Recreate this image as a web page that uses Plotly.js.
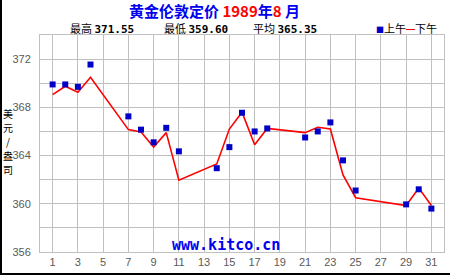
<!DOCTYPE html>
<html>
<head>
<meta charset="utf-8">
<script src="https://cdn.plot.ly/plotly-3.0.1.min.js"></script>
<style>
html,body{margin:0;padding:0;background:#fff;}
#wrap{position:relative;width:450px;height:275px;overflow:hidden;}
#chart{position:absolute;left:0;top:0;width:450px;height:275px;}
#bl{position:absolute;left:0;top:0;width:2px;height:275px;background:#000;}
#bb{position:absolute;left:0;top:273px;width:450px;height:2px;background:#000;}
</style>
</head>
<body>
<div id="wrap"><div id="chart"></div><div id="bl"></div><div id="bb"></div></div>
<script>
// Data (London gold fix, August 1989)
var days = [1,2,3,4,7,8,9,10,11,14,15,16,17,18,21,22,23,24,25,29,30,31];
var amFix = [369.90,369.90,369.70,371.55,367.25,366.15,365.10,366.30,364.35,362.95,364.70,367.55,366.00,366.25,365.50,366.00,366.75,363.60,361.10,359.95,361.20,359.60];
var pmFix = [369.05,369.75,369.25,370.50,366.15,365.95,364.70,365.90,361.95,363.30,366.20,367.60,364.90,366.25,365.90,366.35,366.20,362.40,360.50,359.85,361.30,359.85];
var statLabels = ["最高","最低","平均"];
var statValues = ["371.55","359.60","365.35"];
var seriesNames = ["上午","下午"];
var yTitleChars = ["美","元","/","盎","司"];

var L=40, R=6, T=35, B=23, W=450, H=275;
var pw=W-L-R, ph=H-T-B;
function px(x){return (x-L)/pw;}
function py(y){return (H-B-y)/ph;}

var blue='#0000c8', red='#ff0000', gray='#5a5a5a';

var traces = [
  {x:days, y:pmFix, type:'scatter', mode:'lines', name:seriesNames[1],
   line:{color:red, width:1.6}, hoverinfo:'x+y'},
  {x:days, y:amFix, type:'scatter', mode:'markers', name:seriesNames[0],
   marker:{symbol:'square', size:6, color:blue, line:{width:0}}, hoverinfo:'x+y'}
];

var ann = [];
ann.push({xref:'paper', yref:'paper', x:px(214), y:py(10.5), xanchor:'center', yanchor:'middle', showarrow:false,
  text:'<b><span style="color:#0000ee">黄金伦敦定价 </span><span style="color:#ff0000">1989</span><span style="color:#0000ee">年</span><span style="color:#ff0000">8</span><span style="color:#0000ee"> 月</span></b>',
  font:{family:'Noto Sans CJK SC, sans-serif', size:15}});
var statX=[68,162,251];
for (var i=0;i<statLabels.length;i++){
  ann.push({xref:'paper', yref:'paper', x:px(statX[i]), y:py(28.5), xanchor:'left', yanchor:'middle', showarrow:false,
    text:statLabels[i]+' <b><span style="font-family:DejaVu Sans Mono">'+statValues[i]+'</span></b>',
    font:{family:'Noto Sans CJK SC, sans-serif', size:11, color:'#000'}});
}
ann.push({xref:'paper', yref:'paper', x:px(439), y:py(28.5), xanchor:'right', yanchor:'middle', showarrow:false,
  text:'<span style="color:'+blue+';font-size:8px">■</span>'+seriesNames[0]+'<span style="color:#ff0000;font-size:9px"><b>━</b></span>'+seriesNames[1],
  font:{family:'Noto Sans CJK SC, sans-serif', size:11, color:'#000'}});
for (var j=0;j<yTitleChars.length;j++){
  ann.push({xref:'paper', yref:'paper', x:px(7.5), y:py(113+14*j), xanchor:'center', yanchor:'middle', showarrow:false,
    borderpad:0, text:yTitleChars[j], font:{family:'Noto Sans CJK SC, sans-serif', size:10, color:'#000'}});
}
ann.push({xref:'paper', yref:'paper', x:px(226), y:py(245), xanchor:'center', yanchor:'middle', showarrow:false,
  text:'<b>www.kitco.cn</b>', font:{family:'DejaVu Sans Mono, monospace', size:15, color:'#0000ee'}});

var layout = {
  width:W, height:H,
  margin:{l:L, r:R, t:T, b:B, pad:0},
  paper_bgcolor:'#fff', plot_bgcolor:'#fff',
  showlegend:false,
  xaxis:{range:[0,32], tick0:1, dtick:2, showgrid:true, gridcolor:'#c0c0c0', gridwidth:1,
    zeroline:false, showline:true, mirror:true, linecolor:'#c0c0c0', linewidth:1,
    ticks:'', tickfont:{family:'Liberation Sans, Arial, sans-serif', size:11, color:gray}, fixedrange:true},
  yaxis:{range:[356,374], tick0:356, dtick:4, showgrid:true, gridcolor:'#c0c0c0', gridwidth:1,
    minor:{dtick:2, showgrid:true, gridcolor:'#c0c0c0', gridwidth:1},
    zeroline:false, showline:true, mirror:true, linecolor:'#c0c0c0', linewidth:1,
    ticks:'', ticklabelstandoff:6, tickfont:{family:'Liberation Sans, Arial, sans-serif', size:11, color:gray}, fixedrange:true},
  annotations:ann
};
Plotly.newPlot('chart', traces, layout, {displayModeBar:false, staticPlot:true});
</script>
</body>
</html>
